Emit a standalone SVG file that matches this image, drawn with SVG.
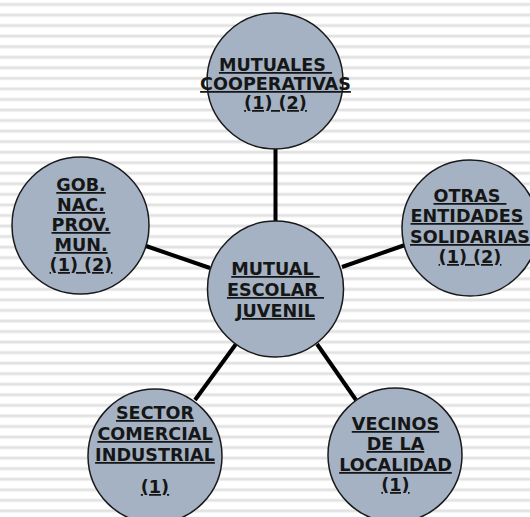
<svg xmlns="http://www.w3.org/2000/svg" width="530" height="517" viewBox="0 0 530 517">
<style>
.node circle{fill:#A4B2C3;stroke:#1a1a1a;stroke-width:1.5}
.node text{font-family:"DejaVu Sans",Verdana,sans-serif;font-weight:bold;font-size:17.6px;fill:#161616;text-anchor:middle;text-decoration:underline;text-decoration-skip-ink:none;white-space:pre}
.conn line{stroke:#000;stroke-width:4;stroke-linecap:butt}
</style>
<defs>
<pattern id="stripes" patternUnits="userSpaceOnUse" width="530" height="10.55" y="2.5">
<rect x="0" y="0" width="530" height="4" fill="#f1f1f1"/>
<rect x="0" y="1" width="530" height="2" fill="#e2e2e2"/>
</pattern>
</defs>
<rect width="530" height="517" fill="#ffffff"/>
<rect width="530" height="517" fill="url(#stripes)"/>
<g id="connectors" class="conn">
<line x1="275.5" y1="149" x2="275.5" y2="222"/>
<line x1="146" y1="246" x2="210" y2="268"/>
<line x1="342" y1="267" x2="405" y2="245"/>
<line x1="236" y1="344" x2="195" y2="400"/>
<line x1="317" y1="344" x2="356" y2="400"/>
</g>
<g id="node-mutuales" class="node">
<circle cx="275" cy="81" r="68"/>
<text xml:space="preserve"><tspan x="275.5" y="71">MUTUALES </tspan><tspan x="275.5" y="90">COOPERATIVAS</tspan><tspan x="275.5" y="109">(1) (2)</tspan></text>
</g>
<g id="node-center" class="node">
<circle cx="275.5" cy="289" r="68"/>
<text xml:space="preserve"><tspan x="275.5" y="275">MUTUAL </tspan><tspan x="275.5" y="296">ESCOLAR </tspan><tspan x="275.5" y="317">JUVENIL</tspan></text>
</g>
<g id="node-gob" class="node">
<circle cx="80.5" cy="225.5" r="68.5"/>
<text xml:space="preserve"><tspan x="81" y="191">GOB.</tspan><tspan x="81" y="211">NAC.</tspan><tspan x="81" y="231">PROV.</tspan><tspan x="81" y="251">MUN.</tspan><tspan x="81" y="271">(1) (2)</tspan></text>
</g>
<g id="node-otras" class="node">
<circle cx="470" cy="228" r="68"/>
<text xml:space="preserve"><tspan x="470" y="202">OTRAS </tspan><tspan x="467" y="222">ENTIDADES</tspan><tspan x="470" y="243">SOLIDARIAS</tspan><tspan x="470" y="263">(1) (2)</tspan></text>
</g>
<g id="node-sector" class="node">
<circle cx="155" cy="456" r="67"/>
<text xml:space="preserve"><tspan x="155" y="419">SECTOR</tspan><tspan x="155" y="440">COMERCIAL</tspan><tspan x="155" y="461">INDUSTRIAL</tspan><tspan x="155" y="493">(1)</tspan></text>
</g>
<g id="node-vecinos" class="node">
<circle cx="395" cy="455" r="67"/>
<text xml:space="preserve"><tspan x="395.5" y="430">VECINOS</tspan><tspan x="395.5" y="450">DE LA</tspan><tspan x="395.5" y="471">LOCALIDAD</tspan><tspan x="395.5" y="491">(1)</tspan></text>
</g>
</svg>
